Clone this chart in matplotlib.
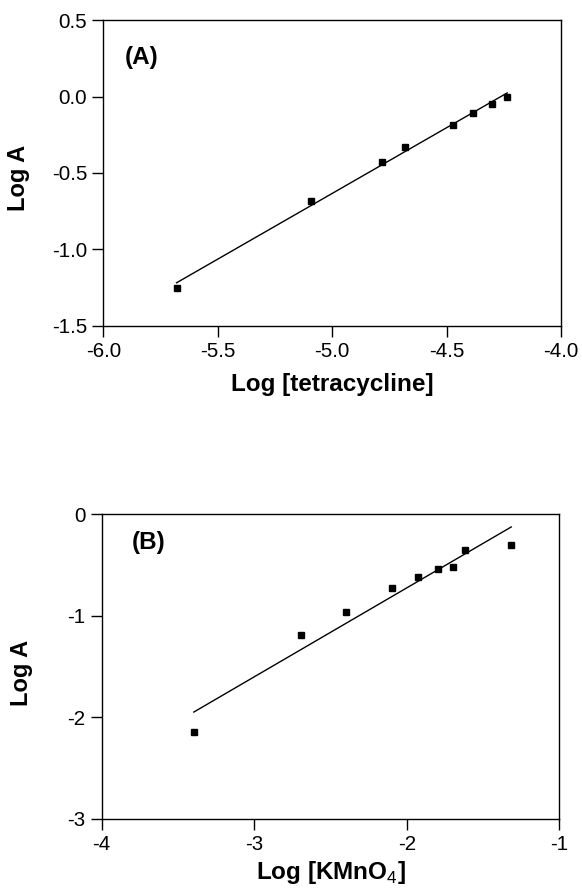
import numpy as np
import matplotlib
matplotlib.use("Agg")
import matplotlib.pyplot as plt

plt.rcParams['font.family'] = ['Liberation Sans', 'DejaVu Sans']
plt.rcParams['mathtext.fontset'] = 'custom'
plt.rcParams['mathtext.rm'] = 'Liberation Sans'
plt.rcParams['mathtext.bf'] = 'Liberation Sans:bold'

# Panel A data
log_tetracycline = [-5.68, -5.094, -4.784, -4.683, -4.474, -4.384, -4.303, -4.235]
log_A_a = [-1.254, -0.685, -0.425, -0.329, -0.183, -0.107, -0.050, -0.004]
xticks_a = [-6.0, -5.5, -5.0, -4.5, -4.0]
yticks_a = [-1.5, -1.0, -0.5, 0.0, 0.5]

# Panel B data
log_kmno4 = [-3.396, -2.696, -2.398, -2.095, -1.929, -1.796, -1.699, -1.619, -1.315]
log_A_b = [-2.145, -1.192, -0.966, -0.724, -0.619, -0.544, -0.524, -0.357, -0.302]
xticks_b = [-4, -3, -2, -1]
yticks_b = [-3, -2, -1, 0]

W, H = 582, 893
fig = plt.figure(figsize=(W / 100, H / 100), dpi=100)

axA = fig.add_axes([103.3 / W, 1 - 325.7 / H, 457.7 / W, 305.4 / H])
axB = fig.add_axes([101.7 / W, 1 - 818.7 / H, 457.6 / W, 304.7 / H])

def style(ax, x, y, xt, yt, fmt):
    x = np.array(x); y = np.array(y)
    ax.plot(x, y, ls='none', marker='s', ms=4.6, color='black', mec='black')
    k, b = np.polyfit(x, y, 1)
    xs = np.array([x.min(), x.max()])
    ax.plot(xs, k * xs + b, color='black', lw=1.0)
    ax.set_xlim(xt[0], xt[-1]); ax.set_ylim(yt[0], yt[-1])
    ax.set_xticks(xt); ax.set_yticks(yt)
    ax.set_xticklabels([fmt(v) for v in xt])
    ax.set_yticklabels([fmt(v) for v in yt])
    ax.tick_params(direction='out', length=8, width=1.0, labelsize=14.8, pad=3.5)
    for s in ax.spines.values():
        s.set_linewidth(1.0)

style(axA, log_tetracycline, log_A_a, xticks_a, yticks_a, lambda v: f"{v:.1f}")
style(axB, log_kmno4, log_A_b, xticks_b, yticks_b, lambda v: f"{v:d}")

axA.set_xlabel('Log [tetracycline]', fontsize=17.5, fontweight='bold')
axA.set_ylabel('Log A', fontsize=17, fontweight='bold')
axA.xaxis.set_label_coords(0.5, -0.154)
axA.yaxis.set_label_coords(-0.160, 0.483)
axA.text(0.084, 0.878, '(A)', transform=axA.transAxes, fontsize=17.5,
         fontweight='bold', ha='center', va='center')

axB.set_xlabel(r'Log [KMnO$_{\mathrm{4}}$]', fontsize=17.5, fontweight='bold')
axB.set_ylabel('Log A', fontsize=17, fontweight='bold')
axB.xaxis.set_label_coords(0.5, -0.131)
axB.yaxis.set_label_coords(-0.151, 0.479)
axB.text(0.103, 0.906, '(B)', transform=axB.transAxes, fontsize=17.5,
         fontweight='bold', ha='center', va='center')

fig.savefig('out.png', dpi=100)
